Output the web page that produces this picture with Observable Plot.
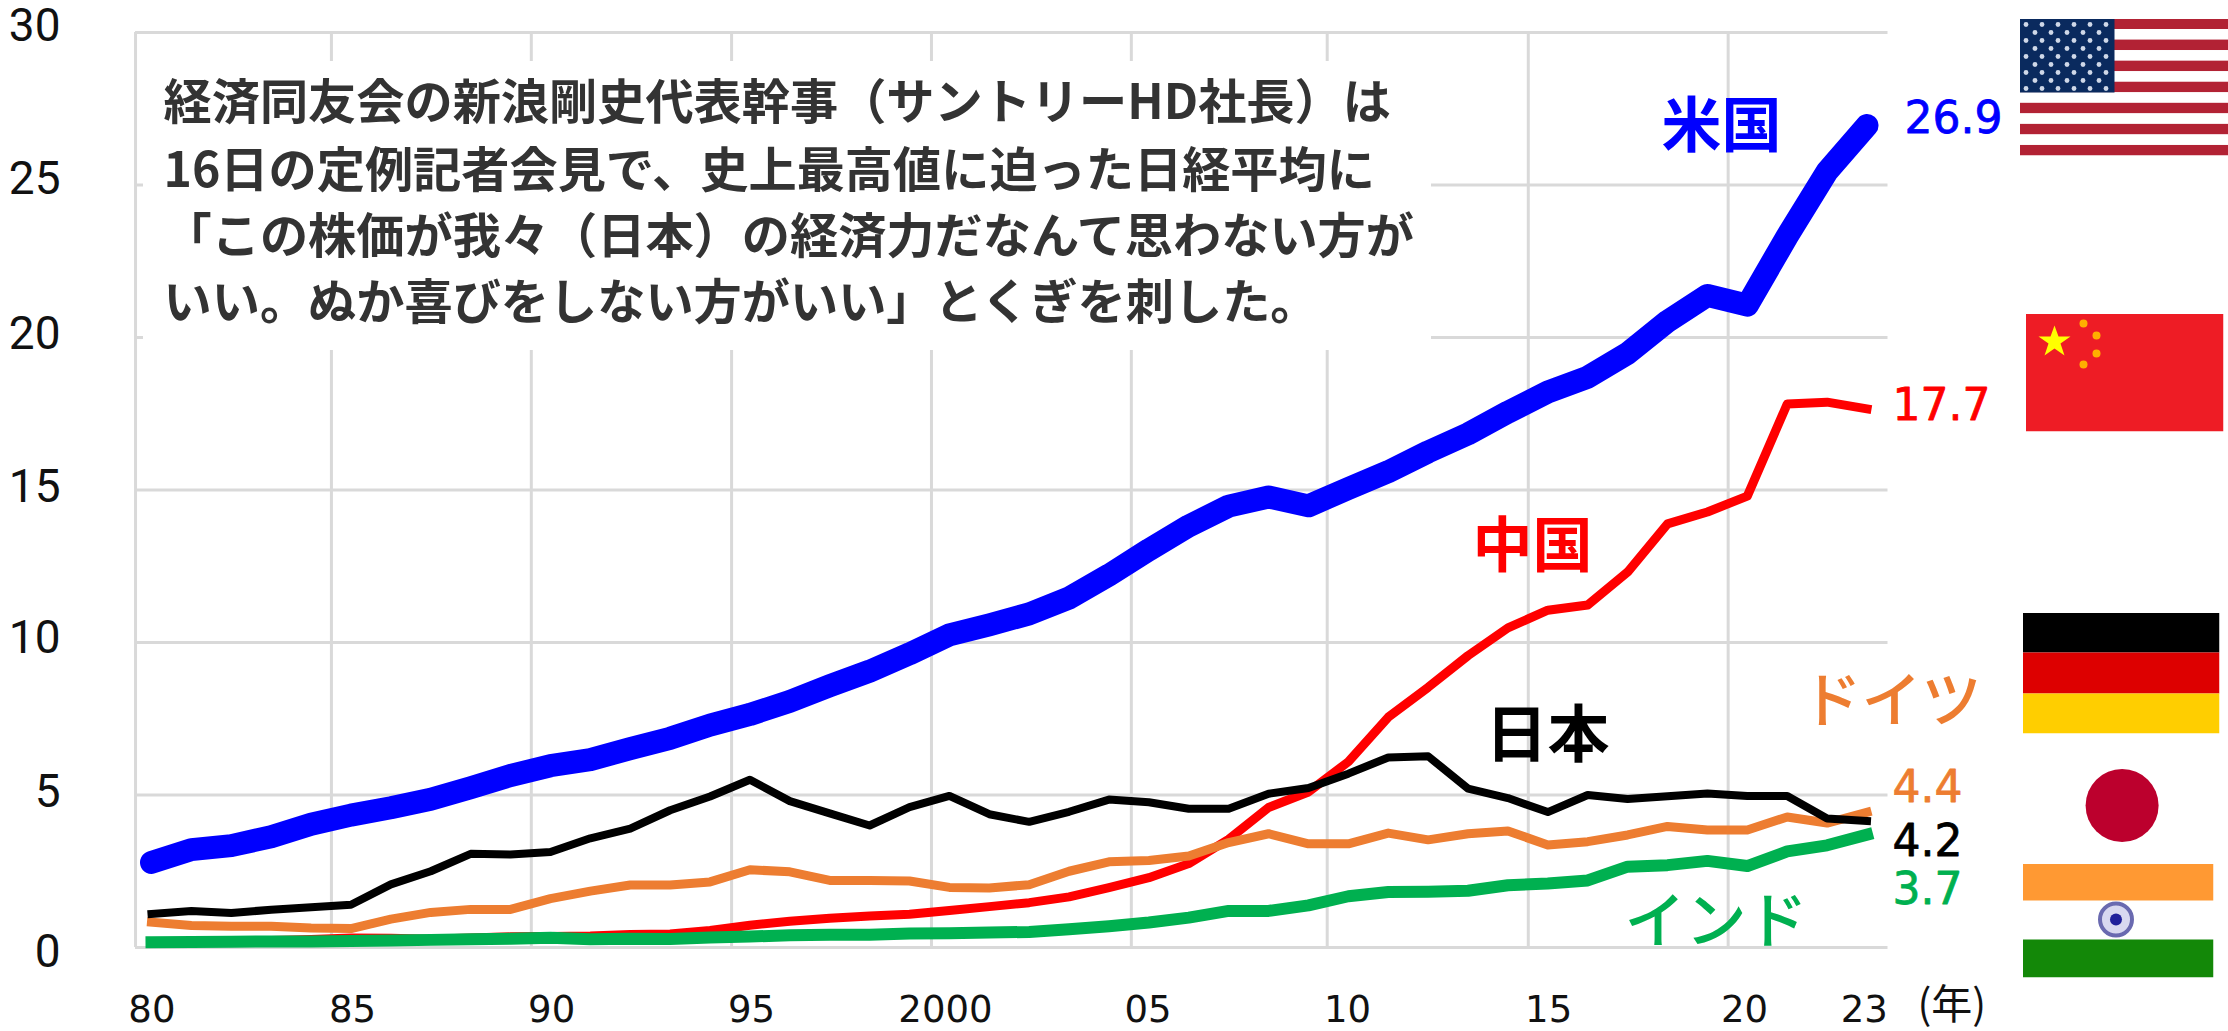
<!DOCTYPE html>
<html><head><meta charset="utf-8">
<script src="https://cdn.jsdelivr.net/npm/d3@7"></script>
<script src="https://cdn.jsdelivr.net/npm/@observablehq/plot@0.6"></script>
<style>html,body{margin:0;padding:0;background:#fff;overflow:hidden}svg{display:block}</style>
</head><body><div id="chart"></div>
<script>
const years = d3.range(1980, 2024);
const usa = [2.79,3.21,3.34,3.63,4.04,4.34,4.58,4.86,5.24,5.64,5.96,6.16,6.52,6.86,7.29,7.64,8.07,8.58,9.06,9.63,10.25,10.58,10.94,11.46,12.21,13.04,13.82,14.47,14.77,14.48,15.05,15.6,16.25,16.84,17.55,18.21,18.7,19.48,20.53,21.38,21.06,23.32,25.44,26.95];
const china = [0.19,0.2,0.21,0.23,0.26,0.31,0.3,0.27,0.31,0.35,0.36,0.38,0.43,0.44,0.56,0.73,0.86,0.96,1.03,1.09,1.21,1.34,1.47,1.66,1.96,2.29,2.75,3.55,4.59,5.1,6.09,7.55,8.53,9.57,10.48,11.06,11.23,12.31,13.89,14.28,14.8,17.82,17.88,17.66];
const japan = [1.1,1.2,1.13,1.24,1.32,1.4,2.07,2.5,3.07,3.05,3.13,3.58,3.9,4.5,4.95,5.5,4.8,4.4,4.0,4.6,4.97,4.37,4.12,4.45,4.85,4.76,4.55,4.55,5.04,5.23,5.7,6.23,6.27,5.21,4.9,4.44,5.0,4.87,4.96,5.05,4.97,4.97,4.23,4.15];
const germany = [0.83,0.72,0.7,0.7,0.64,0.62,0.93,1.15,1.25,1.25,1.6,1.85,2.05,2.05,2.15,2.55,2.48,2.2,2.2,2.18,1.97,1.95,2.06,2.5,2.81,2.85,3.0,3.44,3.73,3.4,3.4,3.75,3.53,3.73,3.82,3.36,3.47,3.69,3.97,3.85,3.85,4.28,4.08,4.43];
const india = [0.17,0.18,0.19,0.2,0.2,0.21,0.23,0.25,0.27,0.29,0.32,0.27,0.29,0.28,0.33,0.36,0.4,0.42,0.42,0.46,0.47,0.49,0.51,0.6,0.7,0.82,0.98,1.2,1.2,1.38,1.68,1.82,1.83,1.86,2.04,2.1,2.2,2.65,2.7,2.84,2.67,3.15,3.35,3.7];

const gridX = [1979.6,1984.51,1989.52,1994.54,1999.55,2004.56,2009.47,2014.51,2019.52];
const gridY = [0,5,10,15,20,25,30];
const xTickPos = [1980.01,1985.04,1990.03,1995.04,1999.9,2004.98,2009.98,2015.02,2019.93,2022.93];
const xTickLabels = ["80","85","90","95","2000","05","10","15","20","23"];
const yTickPos = [-0.15,5.08,10.13,15.1,20.1,25.18,30.2];
const yTickLabels = ["0","5","10","15","20","25","30"];

const noteLines = ["経済同友会の新浪剛史代表幹事（サントリーHD社長）は","16日の定例記者会見で、史上最高値に迫った日経平均に","「この株価が我々（日本）の経済力だなんて思わない方が","いい。ぬか喜びをしない方がいい」とくぎを刺した。"];
const noteY = [27.15,24.95,22.78,20.62];

const kanjiNames = ["米国","中国","日本"];
const kanjiColors = ["#0000ff","#ff0000","#000000"];
const kanjiLeft = [1661,1472,1485];
const kanjiY = [26.25,12.49,6.26];
const kanjiSize = [60,60,62];
const kanaNames = ["ドイツ","インド"];
const kanaColors = ["#ed7d31","#00b050"];
const kanaLeft = [1801,1624];
const kanaY = [7.38,0.15];
const kanaSize = [60,61];
const endValues = ["26.9","17.7","4.2","4.4","3.7"];
const endColors = ["#0000ff","#ff0000","#000000","#ed7d31","#00b050"];
const endLeft = [1904,1892,1892,1892,1892];
const endY = [26.7,17.28,3.0,4.78,1.43];

const rows = (name, vals) => vals.map((v,i)=>({name, year:years[i], v}));
const flag = (w,h,body) => "data:image/svg+xml;utf8," + encodeURIComponent(`<svg xmlns="http://www.w3.org/2000/svg" width="${w}" height="${h}" viewBox="0 0 ${w} ${h}">${body}</svg>`);
const usStripes = d3.range(13).map(i=>`<rect x="0" y="${i*137/13}" width="210" height="${137/13}" fill="${i%2?"#fff":"#b22234"}"/>`).join("");
const usStars = d3.range(9).flatMap(r=>d3.range(r%2?5:6).map(c=>`<circle cx="${(r%2?15.5:6.5)+c*16}" cy="${6+r*8}" r="2.4" fill="#cfd8e8"/>`)).join("");
const flags = [
 {x:2019,y:18,w:210,h:137,src:flag(210,137,usStripes+`<rect width="95" height="74" fill="#0a2a5e"/>`+usStars)},
 {x:2025,y:313,w:198,h:118,src:flag(198,118,`<rect width="198" height="118" fill="#ee1c25"/><polygon fill="#ffff00" points="29,12 33,23 45,23 35,30 39,42 29,35 19,42 23,30 13,23 25,23"/><g fill="#ffb000"><circle cx="58" cy="10" r="4"/><circle cx="71" cy="22" r="4"/><circle cx="71" cy="40" r="4"/><circle cx="58" cy="51" r="4"/></g>`)},
 {x:2022,y:612,w:197,h:121,src:flag(197,121,`<rect width="197" height="40" fill="#000"/><rect y="40" width="197" height="41" fill="#dd0000"/><rect y="81" width="197" height="40" fill="#ffce00"/>`)},
 {x:2022,y:750,w:197,h:110,src:flag(197,110,`<circle cx="99.6" cy="55" r="36.5" fill="#bc002d"/>`)},
 {x:2022,y:863,w:191,h:114,src:flag(191,114,`<rect width="191" height="37" fill="#ff9933"/><rect y="76" width="191" height="38" fill="#138808"/><circle cx="93.5" cy="56" r="16" fill="#d8d8f0" stroke="#6a6ab0" stroke-width="4"/><circle cx="93.5" cy="56" r="6" fill="#20209a"/>`)}
];

const X0=151, X1=1866.5, Y0=947, Y1=32;
const px = p => 1980 + (p-X0)/(X1-X0)*43;
const py = p => (Y0-p)/(Y0-Y1)*30;
const line = (vals,name,color,w) => Plot.line(rows(name,vals),{x:"year",y:"v",stroke:color,strokeWidth:w,strokeLinejoin:"round",strokeLinecap:"square"});

const chart = Plot.plot({
  width:2228, height:1031, margin:0,
  x:{domain:[1980,2023],range:[X0,X1]},
  y:{domain:[0,30],range:[Y0,Y1]},
  style:{background:"#fff",overflow:"visible"},
  marks:[
    Plot.ruleX(gridX,{y1:0,y2:30,stroke:"#d9d9d9",strokeWidth:3,strokeOpacity:1}),
    Plot.ruleY(gridY,{x1:gridX[0],x2:px(1887.5),stroke:"#d9d9d9",strokeWidth:3,strokeOpacity:1}),
    Plot.rect([{a:px(143),b:px(1431),c:py(350),d:py(61)}],{x1:"a",x2:"b",y1:"c",y2:"d",fill:"#fff"}),
    Plot.axisX({ticks:xTickPos,tickSize:0,tickPadding:0,tickFormat:(d,i)=>xTickLabels[i],fontSize:37,fontFamily:"DejaVu Sans",dy:-36,fill:"#111",label:null,anchor:"bottom"}),
    Plot.axisY({ticks:yTickPos,tickSize:0,tickFormat:(d,i)=>yTickLabels[i],fontSize:46,fontFamily:"Roboto",dx:-81,fill:"#111",label:null,anchor:"left",textAnchor:"end",x:px(150)}),
    line(china,"中国","#ff0000",9),
    line(germany,"ドイツ","#ed7d31",9),
    line(japan,"日本","#000000",8),
    line(india,"インド","#00b050",12),
    Plot.line(rows("米国",usa),{x:"year",y:"v",stroke:"#0000ff",strokeWidth:23,strokeLinejoin:"round",strokeLinecap:"round"}),
    Plot.text(noteLines,{x:()=>px(163),y:(d,i)=>noteY[i],text:d=>d,textAnchor:"start",fontSize:48.2,fontWeight:700,fontFamily:"Noto Sans CJK JP",fill:"#333",lineAnchor:"bottom"}),
    Plot.text(kanjiNames,{x:(d,i)=>px(kanjiLeft[i]),y:(d,i)=>kanjiY[i],text:d=>d,fill:(d,i)=>kanjiColors[i],textAnchor:"start",lineAnchor:"bottom",fontSize:(d,i)=>kanjiSize[i],fontWeight:700,fontFamily:"Noto Sans CJK JP"}),
    Plot.text(kanaNames,{x:(d,i)=>px(kanaLeft[i]),y:(d,i)=>kanaY[i],text:d=>d,fill:(d,i)=>kanaColors[i],textAnchor:"start",lineAnchor:"bottom",fontSize:(d,i)=>kanaSize[i],fontWeight:500,fontFamily:"Noto Sans CJK JP"}),
    Plot.text(endValues,{x:(d,i)=>px(endLeft[i]),y:(d,i)=>endY[i],text:d=>d,fill:(d,i)=>endColors[i],stroke:(d,i)=>endColors[i],strokeWidth:0.8,textAnchor:"start",lineAnchor:"bottom",fontSize:44,fontFamily:"DejaVu Sans"}),
    Plot.text(["(年)"],{x:()=>px(1917),y:()=>py(1018),textAnchor:"start",lineAnchor:"bottom",fontSize:41,fontFamily:"Noto Sans CJK JP",fill:"#111"}),
    Plot.image(flags,{x:d=>px(d.x+d.w/2),y:d=>py(d.y+d.h/2),width:"w",height:"h",src:"src",preserveAspectRatio:"none"})
  ]
});
document.getElementById("chart").appendChild(chart);
</script></body></html>
